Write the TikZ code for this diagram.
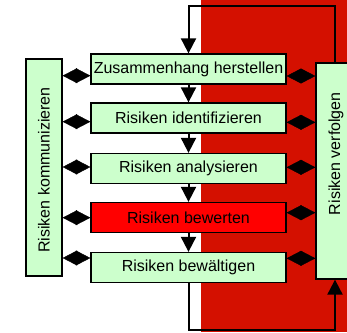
\documentclass[tikz,border=0pt]{standalone}
\usepackage{fontspec}
\setmainfont{Liberation Sans}
\usetikzlibrary{arrows.meta}
\definecolor{bgred}{RGB}{212,16,0}
\definecolor{boxgreen}{RGB}{204,255,204}
\definecolor{boxred}{RGB}{255,0,0}
\begin{document}
\begin{tikzpicture}[x=1pt,y=-1pt,
  font=\fontsize{16}{19}\selectfont,
  proc/.style={draw=black, line width=1.3pt, fill=boxgreen, minimum width=195pt, minimum height=30pt, inner sep=0pt},
  side/.style={draw=black, line width=1.3pt, fill=boxgreen, rotate=90, inner sep=0pt},
  arr/.style={line width=2pt, -{Triangle[width=15pt,length=15pt]}},
  dbl/.style={line width=0.4pt, {Triangle[width=15pt,length=14.5pt]}-{Triangle[width=15pt,length=14.5pt]}}]
\useasboundingbox (0,0) rectangle (347,332);
\fill[bgred] (201,0) rectangle (347,332);
% main boxes
\node[proc] (zh) at (188.5,69) {Zusammenhang herstellen};
\node[proc] (id) at (188.5,118) {Risiken identifizieren};
\node[proc] (an) at (188.5,168.5) {Risiken analysieren};
\node[proc, fill=boxred] (bw) at (188.5,217.5) {Risiken bewerten};
\node[proc] (bg) at (188.5,267.5) {Risiken bewältigen};
% side boxes
\node[side, minimum width=217pt, minimum height=36pt] (kom) at (44,167.5) {Risiken kommunizieren\hspace*{5pt}};
\node[side, minimum width=216pt, minimum height=40pt] (vf) at (336,171) {\hspace*{34.6pt}Risiken verfolgen};
% vertical arrows
\draw[arr] (zh) -- (id);
\draw[arr] (id) -- (an);
\draw[arr] (an) -- (bw);
\draw[arr] (bw) -- (bg);
% loops
\coordinate (tr) at (335,6);
\coordinate (br) at (335,330);
\draw[arr] (vf.east -| tr) -- (tr) -| (zh.north);
\draw[arr] (bg.south) |- (br) -- (vf.west -| br);
% double arrows left
\coordinate (l1) at (0,75.7);
\coordinate (l2) at (0,121.7);
\coordinate (l3) at (0,167);
\coordinate (l4) at (0,217.7);
\coordinate (l5) at (0,258);
\draw[dbl] (kom.south |- l1) -- (zh.west |- l1);
\draw[dbl] (kom.south |- l2) -- (id.west |- l2);
\draw[dbl] (kom.south |- l3) -- (an.west |- l3);
\draw[dbl] (kom.south |- l4) -- (bw.west |- l4);
\draw[dbl] (kom.south |- l5) -- (bg.west |- l5);
% double arrows right
\coordinate (r1) at (0,76);
\coordinate (r2) at (0,122.3);
\coordinate (r3) at (0,167.3);
\coordinate (r4) at (0,212.7);
\coordinate (r5) at (0,258.3);
\draw[dbl] (zh.east |- r1) -- (vf.north |- r1);
\draw[dbl] (id.east |- r2) -- (vf.north |- r2);
\draw[dbl] (an.east |- r3) -- (vf.north |- r3);
\draw[dbl] (bw.east |- r4) -- (vf.north |- r4);
\draw[dbl] (bg.east |- r5) -- (vf.north |- r5);
\end{tikzpicture}
\end{document}
